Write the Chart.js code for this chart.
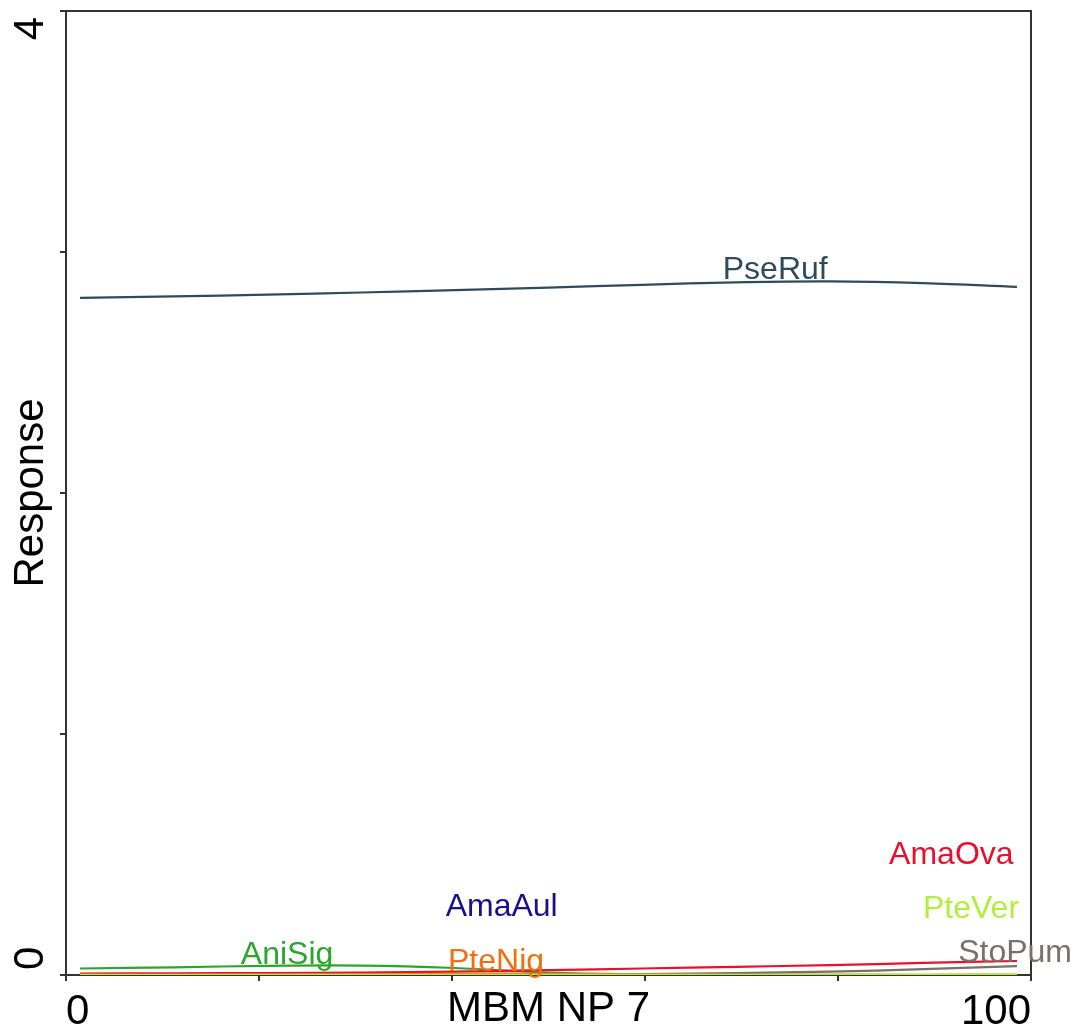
<!DOCTYPE html>
<html lang="en">
  <head>
    <meta charset="UTF-8" />
    <title>Response curves</title>
    <script src="https://cdn.jsdelivr.net/npm/chart.js"></script>
    <style>
      body {
        margin: 0;
        padding: 0;
        background: #fff;
      }
      .chart-box {
        width: 1084px;
        height: 1030px;
      }
    </style>
  </head>
  <body>
    <div class="chart-box"><canvas id="chart"></canvas></div>

    <script>
      // gradient positions (MBM NP 7)
      const gradient = [0, 10, 20, 30, 40, 50, 60, 70, 80, 90, 100];

      // fitted responses per species
      const pseRuf = [2.81, 2.816, 2.823, 2.832, 2.842, 2.852, 2.864, 2.874, 2.878, 2.871, 2.855];
      const amaOva = [0.006, 0.007, 0.008, 0.01, 0.014, 0.02, 0.027, 0.034, 0.041, 0.05, 0.058];
      const stoPum = [0.002, 0.002, 0.002, 0.002, 0.003, 0.003, 0.004, 0.008, 0.014, 0.024, 0.037];
      const aniSig = [0.027, 0.032, 0.038, 0.039, 0.029, 0.01, 0.003, 0.001, 0.001, 0, 0];
      const pteNig = [0.001, 0.001, 0.002, 0.003, 0.005, 0.005, 0.003, 0.001, 0.001, 0.001, 0.002];
      const pteVer = [0.001, 0.001, 0.001, 0.001, 0.001, 0.001, 0.001, 0.001, 0.001, 0.001, 0.002];
      const amaAul = [0, 0, 0, 0, 0, 0, 0, 0, 0, 0, 0];

      const species = ["PseRuf", "AmaOva", "StoPum", "AniSig", "PteNig", "PteVer", "AmaAul"];
      const colors = ["#2f4a5a", "#e8102e", "#7a7068", "#2ca52c", "#f07010", "#aef03c", "#1a0f8c"];
      const series = [pseRuf, amaOva, stoPum, aniSig, pteNig, pteVer, amaAul];
      // draw order: lower number ends up on top
      const drawOrder = [0, 3, 4, 5, 2, 1, 6];

      const yTicks = [0, 1, 2, 3, 4];
      const yTickLabels = ["0", "", "", "", "4"];

      // where each species name sits (data coords)
      const labelX = [74.2, 93.0, 99.8, 22.1, 44.4, 95.1, 45.0];
      const labelY = [2.925, 0.498, 0.091, 0.083, 0.054, 0.274, 0.282];

      const xMin = -1.5;
      const xMax = 101.5;

      const datasets = species.map((name, i) => ({
        label: name,
        data: gradient.map((g, j) => ({ x: g, y: series[i][j] })),
        borderColor: colors[i],
        borderWidth: 2.2,
        pointRadius: 0,
        tension: 0.4,
        fill: false,
        order: drawOrder[i],
      }));

      const FONT = "'Liberation Sans', Arial, sans-serif";

      const extras = {
        id: "extras",
        afterDraw(chart) {
          const ctx = chart.ctx;
          const area = chart.chartArea;
          const xs = chart.scales.x;
          const ys = chart.scales.y;
          ctx.save();
          // frame on top and right
          ctx.strokeStyle = "#333";
          ctx.lineWidth = 2;
          ctx.beginPath();
          ctx.moveTo(area.left, area.top);
          ctx.lineTo(area.right, area.top);
          ctx.lineTo(area.right, area.bottom);
          ctx.stroke();

          // rotated y tick labels, pushed inside the axis ends
          ctx.fillStyle = "#000";
          ctx.font = "42px " + FONT;
          ctx.textBaseline = "middle";
          yTicks.forEach((v, i) => {
            if (!yTickLabels[i]) return;
            const py = ys.getPixelForValue(v);
            ctx.save();
            ctx.translate(31, py);
            ctx.rotate(-Math.PI / 2);
            ctx.textAlign = i === 0 ? "left" : "right";
            ctx.fillText(yTickLabels[i], i === 0 ? 5 : -6, 0);
            ctx.restore();
          });

          // species names
          ctx.font = "32px " + FONT;
          ctx.textAlign = "center";
          species.forEach((name, i) => {
            ctx.fillStyle = colors[i];
            ctx.fillText(name, xs.getPixelForValue(labelX[i]), ys.getPixelForValue(labelY[i]));
          });
          ctx.restore();
        },
      };

      new Chart(document.getElementById("chart"), {
        type: "line",
        data: { datasets },
        options: {
          responsive: true,
          maintainAspectRatio: false,
          animation: false,
          layout: { padding: { top: 11, right: 53, left: 0, bottom: 0 } },
          plugins: { legend: { display: false }, tooltip: { enabled: false } },
          scales: {
            x: {
              type: "linear",
              min: xMin,
              max: xMax,
              afterBuildTicks(s) {
                const step = (xMax - xMin) / 5;
                s.ticks = [0, 1, 2, 3, 4, 5].map((k) => ({ value: xMin + k * step }));
              },
              afterFit(s) {
                s.height = 55;
              },
              border: { display: true, color: "#333", width: 2 },
              grid: { drawOnChartArea: false, drawTicks: true, tickLength: 6, color: "#333", lineWidth: 2 },
              ticks: {
                align: "inner",
                maxRotation: 0,
                padding: 6,
                color: "#000",
                font: { family: FONT, size: 42 },
                callback(v, i, all) {
                  if (i === 0) return String(gradient[0]);
                  if (i === all.length - 1) return String(gradient[gradient.length - 1]);
                  return "";
                },
              },
              title: {
                display: true,
                text: "MBM NP 7",
                color: "#000",
                font: { family: FONT, size: 42, lineHeight: 1 },
                padding: 0,
              },
            },
            y: {
              type: "linear",
              min: 0,
              max: 4,
              afterBuildTicks(s) {
                s.ticks = yTicks.map((v) => ({ value: v }));
              },
              afterFit(s) {
                s.width = 66;
              },
              border: { display: true, color: "#333", width: 2 },
              grid: { drawOnChartArea: false, drawTicks: true, tickLength: 6, color: "#333", lineWidth: 2 },
              ticks: { callback: () => "", padding: 0 },
              title: {
                display: true,
                text: "Response",
                color: "#000",
                font: { family: FONT, size: 42, lineHeight: 1 },
                padding: { top: 10, bottom: 0 },
              },
            },
          },
        },
        plugins: [extras],
      });
    </script>
  </body>
</html>
